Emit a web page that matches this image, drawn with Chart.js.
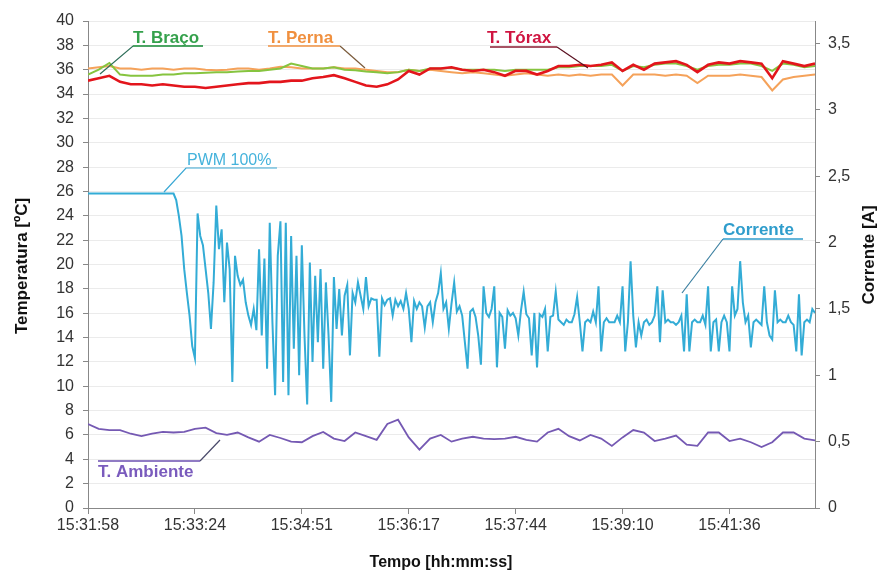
<!DOCTYPE html>
<html><head><meta charset="utf-8">
<script src="https://cdn.jsdelivr.net/npm/chart.js@4"></script>
<style>html,body{margin:0;padding:0;background:#fff}canvas{display:block}</style>
</head><body>
<canvas id="c" width="883" height="576"></canvas>
<script>
// ---- data ----
const timeLabels = ['15:31:58','15:33:24','15:34:51','15:36:17','15:37:44','15:39:10','15:41:36'];
const samplesPerLabel = 40;   // current samples between two time labels
const tempEvery = 4;          // temperature sampled every 4 current samples

const corrente = [
2.37,2.37,2.37,2.37,2.37,2.37,2.37,2.37,2.37,2.37,
2.37,2.37,2.37,2.37,2.37,2.37,2.37,2.37,2.37,2.37,
2.37,2.37,2.37,2.37,2.37,2.37,2.37,2.37,2.37,2.37,
2.37,2.37,2.37,2.32,2.20,2.05,1.80,1.62,1.45,1.22,
1.13,2.22,2.05,1.98,1.80,1.62,1.35,1.70,2.28,1.95,
2.10,1.55,2.00,1.80,0.95,1.90,1.75,1.68,1.72,1.55,
1.45,1.38,1.50,1.34,1.95,1.30,1.88,1.05,2.15,1.40,
0.85,1.90,2.16,0.95,2.15,0.85,2.05,1.20,1.90,1.00,
1.98,1.30,0.78,1.85,1.10,1.75,1.25,1.80,1.05,1.70,
1.30,0.80,1.74,1.35,1.65,1.30,1.60,1.68,1.15,1.62,
1.55,1.70,1.60,1.50,1.74,1.52,1.58,1.57,1.57,1.14,
1.58,1.53,1.57,1.58,1.45,1.57,1.52,1.56,1.50,1.62,
1.50,1.25,1.56,1.50,1.55,1.52,1.36,1.52,1.55,1.40,
1.55,1.62,1.77,1.50,1.55,1.35,1.54,1.70,1.48,1.52,
1.45,1.25,1.05,1.48,1.50,1.44,1.30,1.08,1.67,1.47,
1.44,1.50,1.67,1.06,1.47,1.44,1.20,1.49,1.45,1.47,
1.43,1.30,1.49,1.63,1.46,1.43,1.15,1.47,1.06,1.46,
1.44,1.50,1.18,1.44,1.45,1.63,1.42,1.40,1.38,1.42,
1.40,1.40,1.46,1.59,1.40,1.18,1.40,1.42,1.40,1.48,
1.40,1.67,1.18,1.40,1.43,1.40,1.40,1.40,1.45,1.40,
1.67,1.18,1.40,1.86,1.45,1.21,1.40,1.30,1.40,1.42,
1.38,1.40,1.45,1.67,1.25,1.64,1.40,1.42,1.40,1.40,
1.38,1.40,1.45,1.18,1.61,1.18,1.40,1.42,1.40,1.40,
1.45,1.38,1.67,1.18,1.40,1.42,1.18,1.40,1.45,1.40,
1.18,1.67,1.45,1.50,1.86,1.55,1.40,1.45,1.21,1.40,
1.42,1.40,1.38,1.67,1.40,1.30,1.27,1.64,1.40,1.42,
1.40,1.40,1.45,1.40,1.38,1.18,1.61,1.15,1.40,1.42,
1.40,1.50,1.47
];

const tTorax = [
35.1,35.3,35.5,35.0,34.8,34.8,34.7,34.8,34.7,34.6,
34.6,34.5,34.6,34.7,34.8,34.9,34.9,35.0,35.0,35.1,
35.1,35.3,35.4,35.55,35.3,35.0,34.7,34.6,34.8,35.2,
35.9,35.6,36.1,36.1,36.2,36.0,35.9,36.0,35.8,35.5,
35.9,35.9,35.6,35.9,36.3,36.3,36.4,36.3,36.4,36.6,
35.9,36.4,36.0,36.5,36.6,36.7,36.4,35.8,36.4,36.6,
36.5,36.7,36.6,36.5,35.3,36.7,36.5,36.3,36.5
];
const tBraco = [
35.6,36.0,36.55,35.6,35.5,35.5,35.5,35.6,35.6,35.7,
35.7,35.75,35.8,35.8,35.85,35.9,35.9,36.0,36.1,36.5,
36.3,36.1,36.1,36.2,36.0,35.95,35.85,35.8,35.7,35.8,
36.0,35.9,36.1,36.1,36.15,36.0,36.0,36.0,36.0,35.9,
36.0,36.0,36.0,36.0,36.2,36.2,36.3,36.3,36.3,36.4,
35.9,36.3,36.2,36.4,36.5,36.5,36.3,36.0,36.3,36.4,
36.4,36.5,36.5,36.3,35.9,36.5,36.4,36.2,36.3
];
const tPerna = [
36.1,36.2,36.3,36.1,36.1,36.0,36.1,36.1,36.0,36.1,
36.1,36.0,35.95,36.0,36.1,36.1,36.0,36.1,36.25,36.2,
36.1,36.1,36.1,36.2,36.1,36.1,36.0,35.9,35.8,35.8,
36.0,35.9,36.0,35.9,35.8,35.7,35.8,35.7,35.6,35.5,
35.6,35.7,35.6,35.5,35.6,35.5,35.6,35.5,35.6,35.6,
34.7,35.6,35.6,35.6,35.5,35.6,35.5,34.9,35.5,35.5,
35.5,35.6,35.5,35.4,34.3,35.2,35.4,35.5,35.6
];
const tAmbiente = [
6.9,6.5,6.4,6.4,6.1,5.9,6.1,6.25,6.2,6.25,
6.5,6.6,6.15,6.0,6.2,5.8,5.45,6.0,5.75,5.45,
5.4,5.9,6.25,5.7,5.5,6.2,5.9,5.6,6.9,7.25,
5.8,4.8,5.7,6.0,5.45,5.7,5.85,5.7,5.65,5.7,
5.85,5.6,5.45,6.2,6.5,5.9,5.55,6.0,5.7,5.1,
5.8,6.4,6.2,5.5,5.7,5.95,5.2,5.1,6.2,6.2,
5.5,5.7,5.4,5.0,5.4,6.2,6.2,5.7,5.55
];

// ---- chart ----
const FONT = "'Liberation Sans', Arial, sans-serif";
const lastIdx = corrente.length - 1;
const curPts = corrente.map((v,i)=>({x:i,y:v}));
const tp = arr => arr.map((v,j)=>({x:j*tempEvery,y:v}));

const annot = {
  id:'annot',
  afterDraw(chart){
    const c = chart.ctx;
    c.save();
    function line(pts,color,w){
      c.beginPath(); c.strokeStyle=color; c.lineWidth=w||1;
      c.moveTo(pts[0][0],pts[0][1]);
      for(let k=1;k<pts.length;k++) c.lineTo(pts[k][0],pts[k][1]);
      c.stroke();
    }
    function txt(s,x,y,color,font){
      c.font=font; c.fillStyle=color; c.textAlign='left'; c.textBaseline='alphabetic';
      c.fillText(s,x,y);
    }
    const B = "bold 17px "+FONT;
    // T. Braço
    txt('T. Braço',133,43,'#35a14c',B);
    line([[100,74],[133,46],[203,46]],'#2f6f5a',1.2);
    line([[133,46],[203,46]],'#35a14c',1.5);
    // T. Perna
    txt('T. Perna',268,43,'#f0903f',B);
    line([[365,68],[340,46]],'#7a5a3a',1.2);
    line([[268,46],[340,46]],'#f0903f',1.5);
    // T. Tórax
    txt('T. Tórax',487,43,'#cf1440',B);
    line([[588,68],[557,47]],'#5a1020',1.2);
    line([[490,47],[557,47]],'#8a1a30',1.5);
    // PWM 100%
    txt('PWM 100%',187,165,'#45b3dc',"16px "+FONT);
    line([[164,192],[186,168],[277,168]],'#3aa8d4',1.2);
    // Corrente
    txt('Corrente',723,235,'#2f9dcc',B);
    line([[682,293],[723,239]],'#3a7fa0',1.2);
    line([[723,239],[803,239]],'#2f9dcc',1.5);
    // T. Ambiente
    txt('T. Ambiente',98,477,'#7a5bbd',B);
    line([[220,440],[200,461]],'#4a4a6a',1.2);
    line([[98,461],[200,461]],'#6b4fb0',1.5);

    // axis titles
    c.fillStyle='#111';
    c.font="bold 16px "+FONT;
    c.textAlign='center'; c.textBaseline='middle';
    c.fillText('Tempo [hh:mm:ss]',441,563);
    c.save(); c.translate(22,266); c.rotate(-Math.PI/2);
    c.font="bold 17px "+FONT;
    c.fillText('Temperatura [ºC]',0,0); c.restore();
    c.save(); c.translate(869,255); c.rotate(-Math.PI/2);
    c.font="bold 17px "+FONT;
    c.fillText('Corrente [A]',0,0); c.restore();
    c.restore();
  }
};

new Chart(document.getElementById('c'),{
  type:'line',
  data:{datasets:[
    {label:'T. Tórax',data:tp(tTorax),yAxisID:'y',borderColor:'#e3151c',borderWidth:2.6},
    {label:'T. Braço',data:tp(tBraco),yAxisID:'y',borderColor:'#86c43f',borderWidth:2},
    {label:'T. Perna',data:tp(tPerna),yAxisID:'y',borderColor:'#f5a25a',borderWidth:2},
    {label:'T. Ambiente',data:tp(tAmbiente),yAxisID:'y',borderColor:'#7559b3',borderWidth:1.8},
    {label:'Corrente',data:curPts,yAxisID:'y2',borderColor:'#33acd6',borderWidth:2}
  ]},
  options:{
    responsive:false,animation:false,
    elements:{point:{radius:0},line:{tension:0}},
    layout:{padding:{top:21,left:0,right:0,bottom:0}},
    plugins:{legend:{display:false},tooltip:{enabled:false}},
    scales:{
      x:{type:'linear',min:0,max:lastIdx,
        afterFit(s){s.height=68;},
        afterBuildTicks(s){s.ticks=s.ticks.filter(t=>t.value%samplesPerLabel===0);},
        ticks:{stepSize:samplesPerLabel,autoSkip:false,maxRotation:0,color:'#333',font:{family:FONT,size:16},padding:2,
          callback:v=>timeLabels[v/samplesPerLabel]},
        grid:{drawOnChartArea:false,tickLength:6,tickColor:'#888'},
        border:{color:'#888'}},
      y:{position:'left',min:0,max:40,
        afterFit(s){s.width=88;},
        ticks:{stepSize:2,color:'#333',font:{family:FONT,size:16},padding:9},
        grid:{color:'#ebebeb',tickLength:5,tickColor:'#888'},
        border:{color:'#888'}},
      y2:{position:'right',min:0,max:3.67,
        afterFit(s){s.width=68;},
        afterBuildTicks(s){s.ticks=s.ticks.filter(t=>Math.abs(t.value*2-Math.round(t.value*2))<1e-6);},
        ticks:{stepSize:0.5,color:'#333',font:{family:FONT,size:16},padding:8,
          callback:v=>String(v).replace('.',',')},
        grid:{drawOnChartArea:false,tickLength:5,tickColor:'#888'},
        border:{color:'#888'}}
    }
  },
  plugins:[annot]
});
</script>
</body></html>
